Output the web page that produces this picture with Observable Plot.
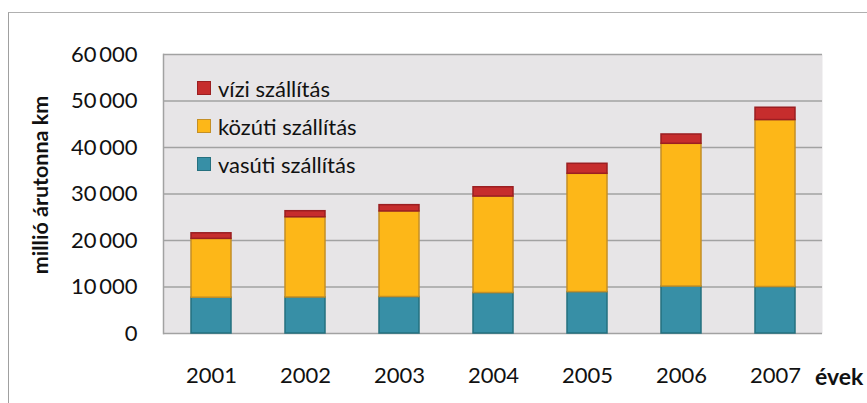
<!DOCTYPE html>
<html>
<head>
<meta charset="utf-8">
<script src="https://cdn.jsdelivr.net/npm/d3@7"></script>
<script src="https://cdn.jsdelivr.net/npm/@observablehq/plot@0.6"></script>
<style>
  html, body { margin: 0; padding: 0; background: #fff; }
  body { width: 867px; height: 403px; overflow: hidden; position: relative; font-family: Lato, "Open Sans", sans-serif; }
  #outer { position: absolute; left: 8px; top: 12px; right: -2px; bottom: -2px; border-top: 1.5px solid #b0b0b0; border-left: 1.5px solid #a0a0a0; }
  #chart { position: absolute; left: 0; top: 0; }
  .legend { position: absolute; left: 197px; top: 69px; font-size: 22px; color: #111; }
  .legend .row { display: flex; align-items: center; height: 38px; }
  .legend .sw { width: 12px; height: 12px; margin-right: 7px; border: 1.5px solid; }
  #ylab { position: absolute; left: 40px; top: 185px; transform: translate(-50%, -50%) rotate(-90deg); font-weight: bold; font-size: 21.5px; white-space: nowrap; color: #111; }
  #xlab { position: absolute; left: 815px; top: 362px; font-weight: bold; font-size: 23px; white-space: nowrap; color: #111; }
</style>
</head>
<body>
<div id="outer"></div>
<div id="chart"></div>
<div id="ylab"></div>
<div id="xlab"></div>
<div class="legend" id="legend"></div>
<script>
const years = ["2001", "2002", "2003", "2004", "2005", "2006", "2007"];
const rail  = [7700, 7750, 7850, 8700, 8900, 10100, 10000];
const road  = [12650, 17250, 18400, 20750, 25450, 30700, 35900];
const water = [1200, 1300, 1350, 2000, 2150, 2000, 2650];
const seriesNames = ["vasúti szállítás", "közúti szállítás", "vízi szállítás"];
const fills   = ["#378fa6", "#fdb718", "#c62d2d"];
const strokes = ["#25707f", "#c48f26", "#9b1f22"];
const yTicks = [0, 10000, 20000, 30000, 40000, 50000, 60000];
const yLabel = "millió árutonna km";
const xLabel = "évek";

const seriesValues = [rail, road, water];
const data = [];
seriesNames.forEach((s, i) => years.forEach((y, j) => data.push({year: y, series: s, value: seriesValues[i][j], si: i})));

const fmt = d3.formatLocale({decimal: ",", thousands: "\u2009", grouping: [3]}).format(",");

const chart = Plot.plot({
  width: 867,
  height: 403,
  marginLeft: 163,
  marginRight: 45,
  marginTop: 54,
  marginBottom: 70,
  style: {fontFamily: "Lato, sans-serif", fontSize: "22px", color: "#111", background: "transparent"},
  x: {domain: years, paddingInner: 0.575, paddingOuter: 0.2875, label: null},
  y: {domain: [0, 60000], ticks: yTicks, label: null},
  marks: [
    Plot.frame({fill: "#e7e5e7", stroke: null}),
    Plot.ruleY(yTicks, {stroke: "#a2a2a2", strokeWidth: 1.5}),
    Plot.frame({anchor: "left", stroke: "#a2a2a2", strokeWidth: 1.5}),
    Plot.barY(data, {x: "year", y: "value", fill: d => fills[d.si], stroke: d => strokes[d.si], strokeWidth: 1.5, order: null}),
    Plot.axisY(yTicks, {tickSize: 0, tickPadding: 26, tickFormat: fmt, label: null, fontSize: 22}),
    Plot.axisX({tickSize: 0, tickPadding: 34, label: null, fontSize: 22})
  ]
});
document.getElementById("chart").appendChild(chart);
document.getElementById("ylab").textContent = yLabel;
document.getElementById("xlab").textContent = xLabel;

const legend = document.getElementById("legend");
[2, 1, 0].forEach(i => {
  const row = document.createElement("div");
  row.className = "row";
  const sw = document.createElement("div");
  sw.className = "sw";
  sw.style.background = fills[i];
  sw.style.borderColor = strokes[i];
  const t = document.createElement("span");
  t.textContent = seriesNames[i];
  row.appendChild(sw); row.appendChild(t);
  legend.appendChild(row);
});
</script>
</body>
</html>
